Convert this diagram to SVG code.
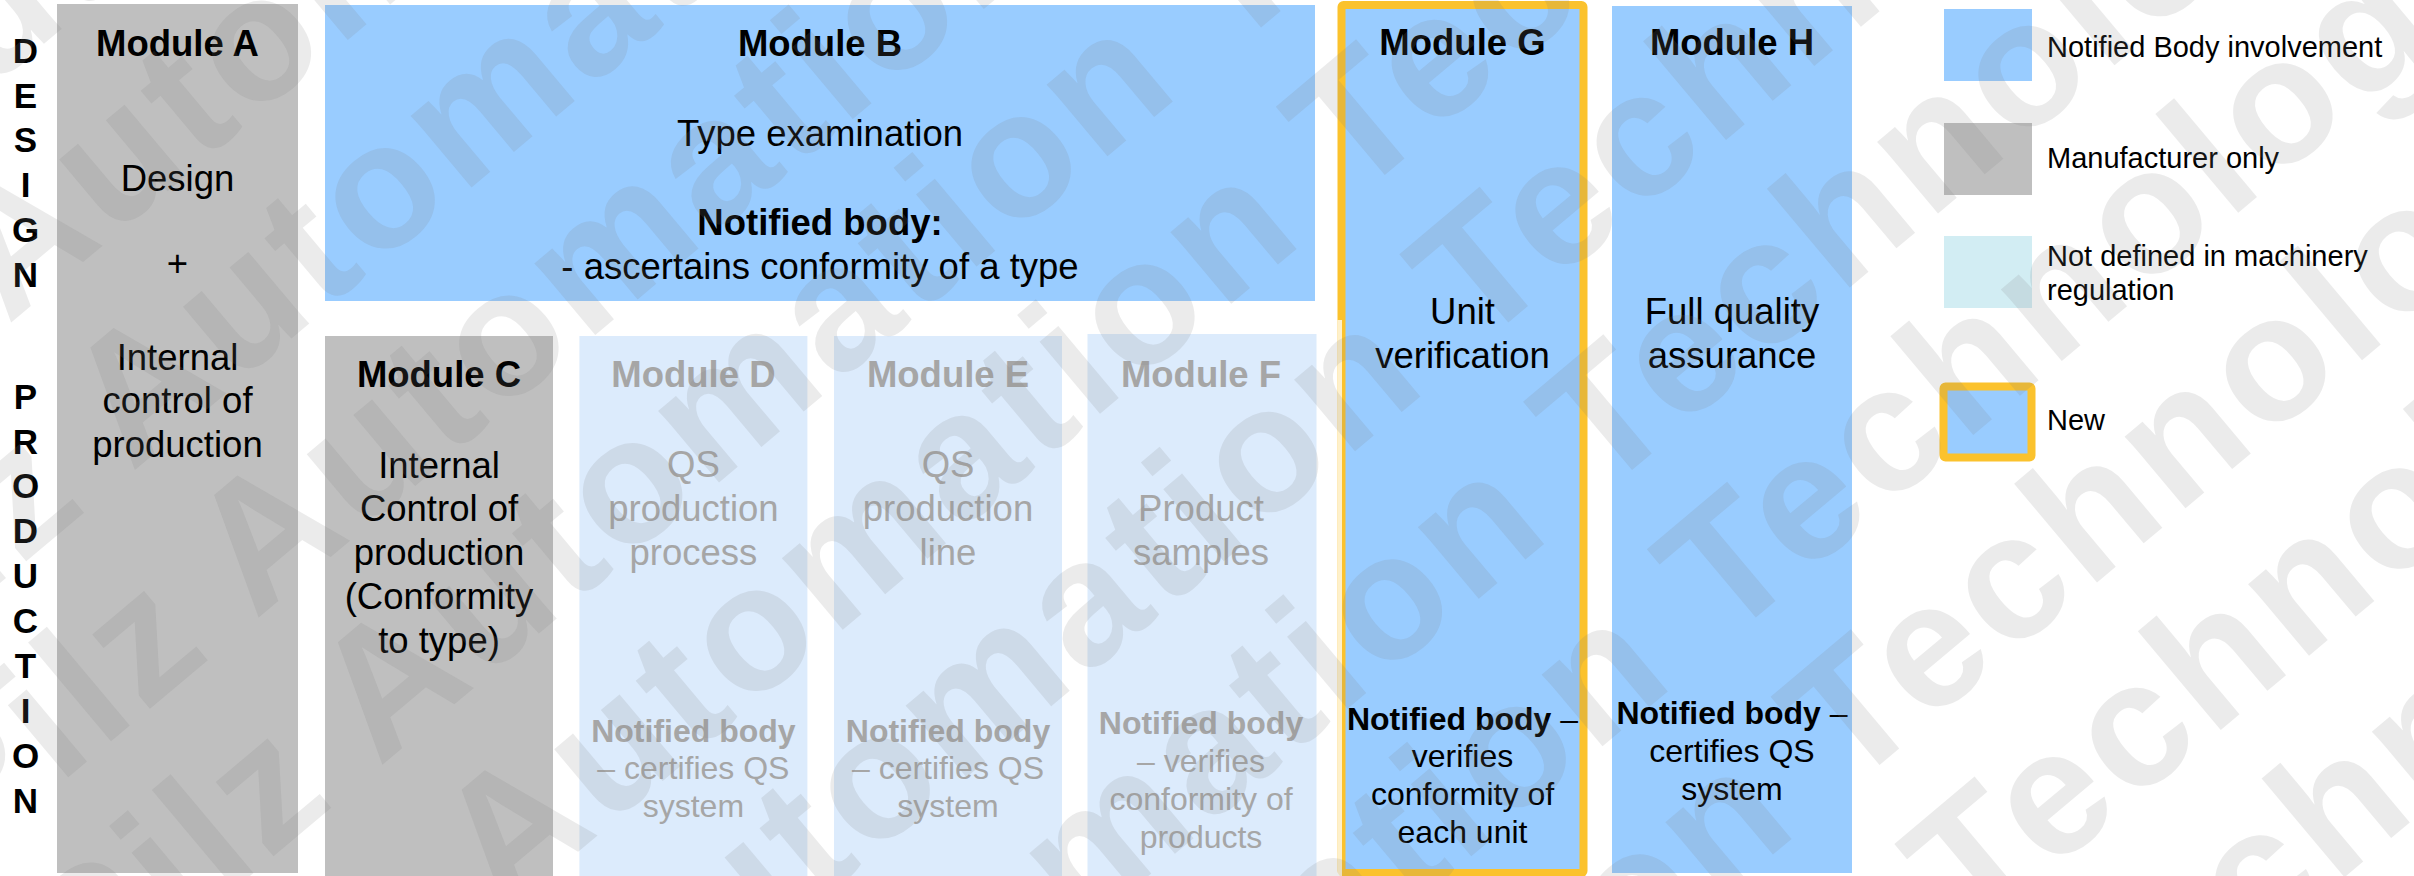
<svg xmlns="http://www.w3.org/2000/svg" width="2414" height="876" viewBox="0 0 2414 876">
<style>
.t{font-family:"Liberation Sans",Arial,sans-serif;text-anchor:middle;fill:#000}
.r{font-size:36.5px}
.h{font-size:36.5px;font-weight:bold}
.sb{font-size:32px;font-weight:bold}
.s{font-size:32px}
.g{fill:#a6a6a6}
.lg{font-family:"Liberation Sans",Arial,sans-serif;font-size:29px;fill:#000}
.side{font-family:"Liberation Sans",Arial,sans-serif;font-size:35px;font-weight:bold;text-anchor:middle;fill:#000}
.gray{fill:#bfbfbf}
.blue{fill:#99ccff}
.pale{fill:#dcebfc}
.new{fill:#99ccff;stroke:#fbc22d;stroke-width:8;stroke-linejoin:round}
.wm{font-family:"Liberation Sans",Arial,sans-serif;font-weight:bold;font-size:178px;letter-spacing:6.5px;fill:#7f7f7f;fill-opacity:0.157}
</style>
<rect width="2414" height="876" fill="#ffffff"/>

<g id="side-labels">
<text class="side"><tspan x="25.5" y="62.7">D</tspan><tspan x="25.5" y="107.5">E</tspan><tspan x="25.5" y="152.3">S</tspan><tspan x="25.5" y="197.1">I</tspan><tspan x="25.5" y="241.9">G</tspan><tspan x="25.5" y="286.7">N</tspan></text>
<text class="side"><tspan x="25.5" y="408.6">P</tspan><tspan x="25.5" y="453.5">R</tspan><tspan x="25.5" y="498.4">O</tspan><tspan x="25.5" y="543.3">D</tspan><tspan x="25.5" y="588.2">U</tspan><tspan x="25.5" y="633.1">C</tspan><tspan x="25.5" y="678">T</tspan><tspan x="25.5" y="722.9">I</tspan><tspan x="25.5" y="767.8">O</tspan><tspan x="25.5" y="812.7">N</tspan></text>
</g>

<g id="module-a">
<rect class="gray" x="57" y="4" width="241" height="869"/>
<text class="t h" x="177.5" y="56">Module A</text>
<text class="t r" x="177.5" y="190.7">Design</text>
<text class="t r" x="177.5" y="276">+</text>
<text class="t r"><tspan x="177.5" y="369.5">Internal</tspan><tspan x="177.5" y="413">control of</tspan><tspan x="177.5" y="456.5">production</tspan></text>
</g>

<g id="module-b">
<rect class="blue" x="325" y="5" width="990" height="296"/>
<text class="t h" x="820" y="56">Module B</text>
<text class="t r" x="820" y="146.2">Type examination</text>
<text class="t h" x="820" y="235">Notified body:</text>
<text class="t r" x="820" y="278.5">- ascertains conformity of a type</text>
</g>

<g id="module-c">
<rect class="gray" x="325" y="336" width="228" height="540"/>
<text class="t h" x="439" y="386.7">Module C</text>
<text class="t r"><tspan x="439" y="477.7">Internal</tspan><tspan x="439" y="521.4">Control of</tspan><tspan x="439" y="565.1">production</tspan><tspan x="439" y="608.8">(Conformity</tspan><tspan x="439" y="652.5">to type)</tspan></text>
</g>

<g id="module-d">
<rect class="pale" x="579.4" y="336" width="228" height="540"/>
<text class="t h g" x="693.4" y="387">Module D</text>
<text class="t r g"><tspan x="693.4" y="476.5">QS</tspan><tspan x="693.4" y="520.5">production</tspan><tspan x="693.4" y="564.5">process</tspan></text>
<text class="t sb g" x="693.4" y="741.5">Notified body</text>
<text class="t s g"><tspan x="693.4" y="779.3">– certifies QS</tspan><tspan x="693.4" y="817.1">system</tspan></text>
</g>

<g id="module-e">
<rect class="pale" x="834" y="336" width="228" height="540"/>
<text class="t h g" x="948" y="387">Module E</text>
<text class="t r g"><tspan x="948" y="476.5">QS</tspan><tspan x="948" y="520.5">production</tspan><tspan x="948" y="564.5">line</tspan></text>
<text class="t sb g" x="948" y="741.5">Notified body</text>
<text class="t s g"><tspan x="948" y="779.3">– certifies QS</tspan><tspan x="948" y="817.1">system</tspan></text>
</g>

<g id="module-f">
<rect class="pale" x="1087.5" y="334" width="229" height="542"/>
<text class="t h g" x="1201" y="387">Module F</text>
<text class="t r g"><tspan x="1201" y="521">Product</tspan><tspan x="1201" y="565">samples</tspan></text>
<text class="t sb g" x="1201" y="734.4">Notified body</text>
<text class="t s g"><tspan x="1201" y="772.2">– verifies</tspan><tspan x="1201" y="810">conformity of</tspan><tspan x="1201" y="847.8">products</tspan></text>
</g>

<g id="module-g">
<rect class="new" x="1341.5" y="5" width="242" height="868" rx="2"/>
<rect x="1337.5" y="320" width="4.5" height="556" fill="#ffffff" fill-opacity="0.75"/>
<text class="t h" x="1462.5" y="55">Module G</text>
<text class="t r"><tspan x="1462.5" y="324">Unit</tspan><tspan x="1462.5" y="368.3">verification</tspan></text>
<text class="t s" x="1462.5" y="729.6"><tspan font-weight="bold">Notified body</tspan> –</text>
<text class="t s"><tspan x="1462.5" y="767.4">verifies</tspan><tspan x="1462.5" y="805.2">conformity of</tspan><tspan x="1462.5" y="843">each unit</tspan></text>
</g>

<g id="module-h">
<rect class="blue" x="1612" y="6" width="240" height="867"/>
<text class="t h" x="1732" y="55">Module H</text>
<text class="t r"><tspan x="1732" y="324">Full quality</tspan><tspan x="1732" y="368.3">assurance</tspan></text>
<text class="t s" x="1732" y="724"><tspan font-weight="bold">Notified body</tspan> –</text>
<text class="t s"><tspan x="1732" y="762">certifies QS</tspan><tspan x="1732" y="800">system</tspan></text>
</g>

<g id="legend">
<rect class="blue" x="1944" y="9" width="88" height="72"/>
<text class="lg" x="2047" y="57.3">Notified Body involvement</text>
<rect class="gray" x="1944" y="123" width="88" height="72"/>
<text class="lg" x="2047" y="167.5">Manufacturer only</text>
<rect x="1944" y="236" width="88" height="72" fill="#d2edf3"/>
<text class="lg"><tspan x="2047" y="265.5">Not defined in machinery</tspan><tspan x="2047" y="300.3">regulation</tspan></text>
<rect class="new" x="1943.5" y="386.5" width="88" height="71" rx="2"/>
<text class="lg" x="2047" y="430.3">New</text>
</g>

<g id="connectors"/>

<g id="watermark" transform="rotate(-40)">
<text class="wm" x="-585" y="61.7">Pilz Automation Technology</text>
<text class="wm" x="-585" y="254.2">Pilz Automation Technology</text>
<text class="wm" x="-585" y="446.7">Pilz Automation Technology</text>
<text class="wm" x="-585" y="639.2">Pilz Automation Technology</text>
<text class="wm" x="-585" y="831.7">Pilz Automation Technology</text>
<text class="wm" x="-585" y="1024.2">Pilz Automation Technology</text>
<text class="wm" x="-585" y="1216.7">Pilz Automation Technology</text>
<text class="wm" x="-585" y="1409.2">Pilz Automation Technology</text>
<text class="wm" x="-585" y="1601.7">Pilz Automation Technology</text>
<text class="wm" x="-585" y="1794.2">Pilz Automation Technology</text>
<text class="wm" x="-585" y="1986.7">Pilz Automation Technology</text>
<text class="wm" x="-585" y="2179.2">Pilz Automation Technology</text>
</g>
</svg>
